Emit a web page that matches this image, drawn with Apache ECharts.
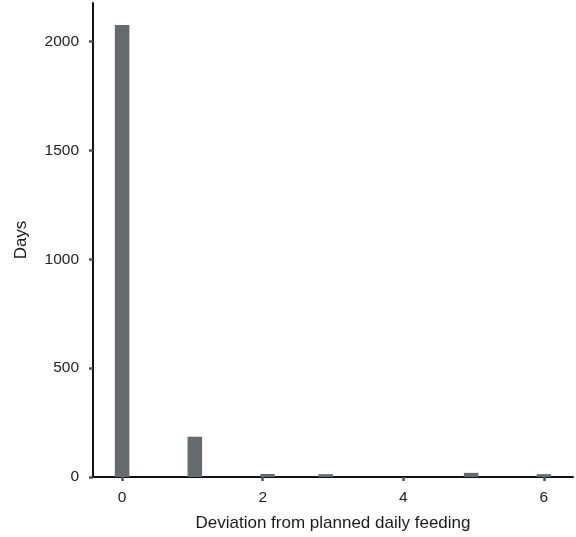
<!DOCTYPE html>
<html>
<head>
<meta charset="utf-8">
<style>
  html, body { margin: 0; padding: 0; background: #ffffff; }
  #chart { width: 576px; height: 537px; }
</style>
<script src="https://cdn.jsdelivr.net/npm/echarts@6/dist/echarts.min.js"></script>
</head>
<body>
<div id="chart"></div>
<script>
// Histogram of daily feeding deviation (30 bins across 0–6)
const binWidth = 6 / 29;
const binCenters = [0, 1.0345, 2.069, 2.8966, 4.9655, 6.0];
const dayCounts = [2076, 185, 14, 13, 19, 13];
const xTickValues = [0, 2, 4, 6];
const yTickValues = [0, 500, 1000, 1500, 2000];

const chart = echarts.init(document.getElementById('chart'), null, { renderer: 'canvas' });

const fontFamily = '"Liberation Sans", Arial, Helvetica, sans-serif';

chart.setOption({
  animation: false,
  backgroundColor: '#ffffff',
  grid: { left: 93, right: 3, top: 3, bottom: 58 },
  xAxis: {
    type: 'value',
    min: -0.414,
    max: 6.414,
    name: 'Deviation from planned daily feeding',
    nameLocation: 'middle',
    nameGap: 38,
    nameTextStyle: { color: '#1a1a1a', fontSize: 17, fontFamily: fontFamily },
    axisLine: { show: true, onZero: false, lineStyle: { color: '#111111', width: 2 } },
    axisTick: { show: true, customValues: xTickValues, length: 4, lineStyle: { color: '#4d5557', width: 2.5 } },
    axisLabel: { customValues: xTickValues, color: '#222222', fontSize: 15.5, fontFamily: fontFamily, margin: 13 },
    splitLine: { show: false }
  },
  yAxis: {
    type: 'value',
    min: 0,
    max: 2177,
    name: 'Days',
    nameLocation: 'middle',
    nameGap: 63,
    nameRotate: 90,
    nameTextStyle: { color: '#1a1a1a', fontSize: 17, fontFamily: fontFamily },
    axisLine: { show: true, onZero: false, lineStyle: { color: '#111111', width: 2 } },
    axisTick: { show: true, customValues: yTickValues, length: 4, lineStyle: { color: '#4d5557', width: 2.5 } },
    axisLabel: {
      customValues: yTickValues,
      formatter: function (v) { return String(v); },
      color: '#222222', fontSize: 15.5, fontFamily: fontFamily, margin: 14
    },
    splitLine: { show: false }
  },
  series: [{
    type: 'custom',
    data: binCenters.map((c, i) => [c, dayCounts[i]]),
    encode: { x: 0, y: 1 },
    renderItem: function (params, api) {
      const c = api.value(0);
      const n = api.value(1);
      const p0 = api.coord([c - binWidth / 2, n]);
      const p1 = api.coord([c + binWidth / 2, 0]);
      return {
        type: 'rect',
        shape: { x: p0[0], y: p0[1], width: p1[0] - p0[0], height: p1[1] - p0[1] },
        style: { fill: '#636b6e' }
      };
    },
    z: 1
  }]
});
</script>
</body>
</html>
